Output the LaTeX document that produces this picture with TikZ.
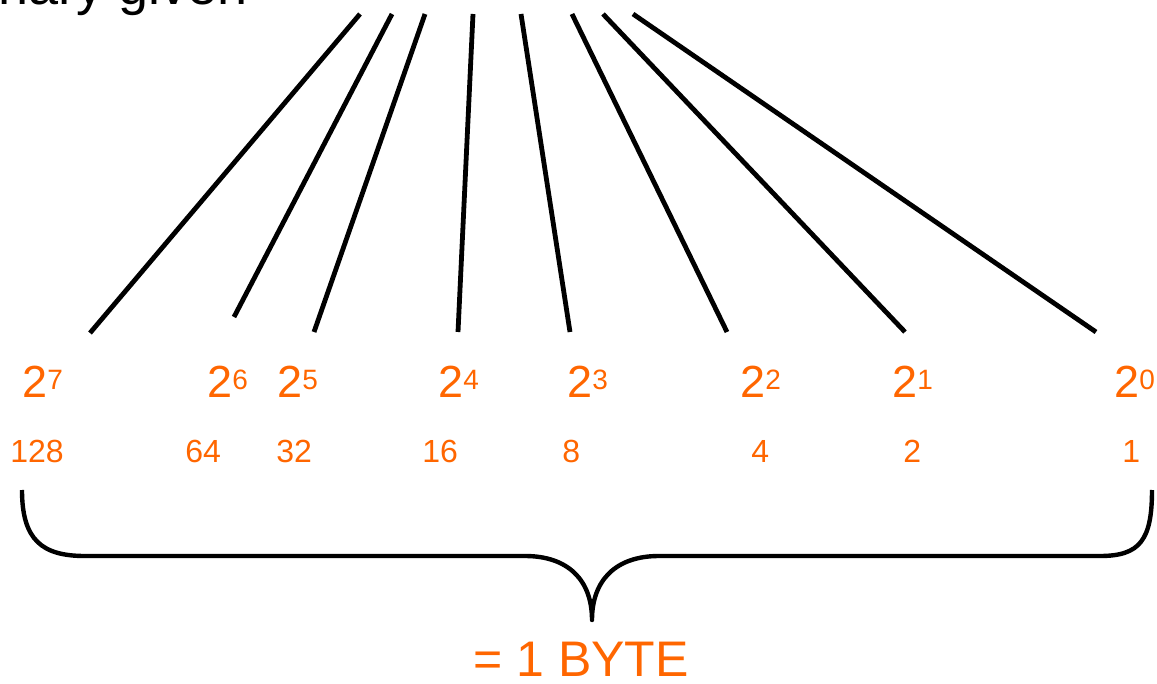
\documentclass[tikz,border=0pt]{standalone}
\usepackage{fontspec}
\setmainfont{Liberation Sans}
\definecolor{bitorange}{HTML}{FF6600}
\newcommand{\powtwo}[1]{\fontsize{22.5}{22.5}\selectfont 2\raisebox{4pt}{\fontsize{14}{14}\selectfont #1}}
\begin{document}
\begin{tikzpicture}[x=0.5pt,y=-0.5pt,
  wire/.style={line width=2.4pt},
  pow/.style={text=bitorange,inner sep=0pt,anchor=base west},
  val/.style={text=bitorange,inner sep=0pt,anchor=base west,font=\fontsize{16}{16}\selectfont},
  brace/.style={line width=2.2pt,line join=round}]
\useasboundingbox (0,0) rectangle (1157,684);

% heading, running off the top edge
\node[inner sep=0pt,anchor=base west,font=\fontsize{27}{27}\selectfont] (head) at (-50,5) {Binary given};

% fan of lines, one per bit
\foreach \i/\tx/\bx/\by in {7/360/90/333, 6/392/234/317, 5/425/314/332, 4/473/458/332,
                            3/521/570/332, 2/572/727/332, 1/603/905/332, 0/633/1096/332} {
  \coordinate (t\i) at (\tx,14);
  \coordinate (b\i) at (\bx,\by);
  \draw[wire] (t\i) -- (b\i);
}

% powers of two
\node[pow] (p7) at (22,397)  {\powtwo{7}};
\node[pow] (p6) at (207,397) {\powtwo{6}};
\node[pow] (p5) at (277,397) {\powtwo{5}};
\node[pow] (p4) at (438,397) {\powtwo{4}};
\node[pow] (p3) at (567,397) {\powtwo{3}};
\node[pow] (p2) at (740,397) {\powtwo{2}};
\node[pow] (p1) at (892,397) {\powtwo{1}};
\node[pow] (p0) at (1114,397){\powtwo{0}};

% decimal values
\node[val] (v7) at (10,462)   {128};
\node[val] (v6) at (185,462)  {64};
\node[val] (v5) at (276,462)  {32};
\node[val] (v4) at (422,462)  {16};
\node[val] (v3) at (562,462)  {8};
\node[val] (v2) at (751,462)  {4};
\node[val] (v1) at (903,462)  {2};
\node[val] (v0) at (1122,462) {1};

% brace under the byte
\coordinate (bl) at (22,490);
\coordinate (br) at (1152,490);
\coordinate (tip) at (592,620);
\draw[brace] (bl) .. controls (22,540) and (42,556) .. (85,556) -- (525,556)
  .. controls (568,556) and (592,580) .. (tip)
  .. controls (592,580) and (616,556) .. (659,556) -- (1100,556)
  .. controls (1140,556) and (1152,540) .. (br);

\node[text=bitorange,inner sep=0pt,anchor=base,font=\fontsize{25}{25}\selectfont] (byte) at (581,676) {= 1 BYTE};
\end{tikzpicture}
\end{document}
